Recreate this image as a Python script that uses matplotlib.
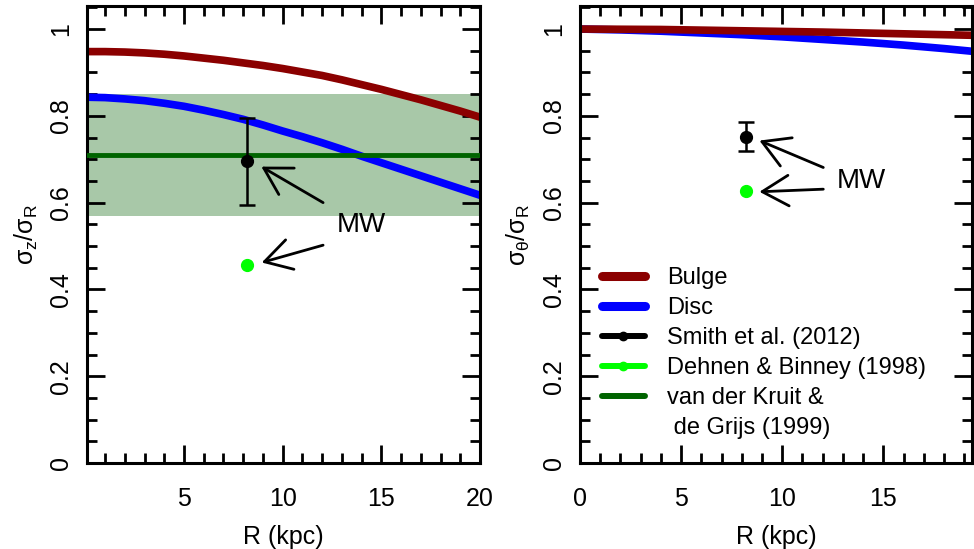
import matplotlib
matplotlib.use("Agg")
import matplotlib.pyplot as plt
from matplotlib.lines import Line2D
from matplotlib.ticker import MultipleLocator

plt.rcParams['font.family'] = ['Liberation Sans', 'DejaVu Sans']
plt.rcParams['mathtext.fontset'] = 'custom'
plt.rcParams['mathtext.rm'] = 'Liberation Sans'
plt.rcParams['mathtext.it'] = 'Liberation Sans'
plt.rcParams['mathtext.bf'] = 'Liberation Sans:bold'

# velocity dispersion ratios vs galactocentric radius
r_z = [0, 1, 2, 3, 4, 5, 6, 7, 8, 9, 10, 11, 12, 13, 14, 15, 16, 17, 18, 19, 20]
bulge_z = [0.948, 0.948, 0.947, 0.945, 0.942, 0.938, 0.933, 0.928, 0.922, 0.916, 0.909,
           0.901, 0.893, 0.883, 0.872, 0.861, 0.849, 0.837, 0.824, 0.811, 0.797]
disc_z = [0.843, 0.842, 0.839, 0.835, 0.829, 0.822, 0.813, 0.803, 0.792, 0.779, 0.765,
          0.752, 0.738, 0.723, 0.707, 0.692, 0.677, 0.662, 0.647, 0.632, 0.617]

r_theta = [0, 2, 4, 6, 8, 10, 12, 14, 16, 18, 20]
bulge_theta = [1.000, 0.9995, 0.999, 0.9975, 0.996, 0.9945, 0.993, 0.991, 0.989, 0.987, 0.985]
disc_theta = [1.000, 0.998, 0.995, 0.991, 0.987, 0.982, 0.976, 0.970, 0.963, 0.955, 0.946]

# Milky Way measurements at the solar radius
mw_r = 8.2
smith_z, smith_z_err = 0.695, 0.10
smith_theta, smith_theta_err = 0.752, 0.033
dehnen_z = 0.456
dehnen_theta = 0.626
vdk_z, vdk_z_err = 0.71, 0.14

RED = '#8B0000'
BLUE = '#0000FF'
DKGREEN = '#006400'
LIME = '#00FF00'

fig = plt.figure(figsize=(9.74, 5.49), dpi=100)
ax1 = fig.add_axes([0.0896, 0.1566, 0.4032, 0.8324])
ax2 = fig.add_axes([0.5955, 0.1566, 0.4028, 0.8324])


def style_axes(ax):
    for s in ax.spines.values():
        s.set_linewidth(2.2)
    ax.xaxis.set_major_locator(MultipleLocator(5))
    ax.xaxis.set_minor_locator(MultipleLocator(1))
    ax.yaxis.set_major_locator(MultipleLocator(0.2))
    ax.yaxis.set_minor_locator(MultipleLocator(0.05))
    ax.yaxis.set_major_formatter(lambda v, p: f"{v:g}")
    ax.tick_params(which='both', direction='in', top=True, right=True, width=2)
    ax.tick_params(which='major', length=13, labelsize=18)
    ax.tick_params(which='minor', length=7)
    ax.tick_params(axis='x', pad=17)
    ax.tick_params(axis='y', pad=10, labelrotation=90)
    for lab in ax.get_yticklabels():
        lab.set_va('center')
    ax.set_ylim(0, 1.053)
    ax.set_xlabel('R (kpc)', fontsize=18, labelpad=10)


def mw_arrow(ax, tip, tail):
    ax.annotate('', xy=tip, xytext=tail,
                arrowprops=dict(arrowstyle='->,head_length=0.95,head_width=0.55',
                                mutation_scale=20, lw=2, color='black',
                                shrinkA=0, shrinkB=0))


# left panel: sigma_z / sigma_R
ax1.axhspan(vdk_z - vdk_z_err, vdk_z + vdk_z_err, color='#A8C8A8', lw=0, zorder=1)
ax1.plot(r_z, bulge_z, color=RED, lw=5.5, zorder=2)
ax1.plot(r_z, disc_z, color=BLUE, lw=5.5, zorder=2)
ax1.axhline(vdk_z, color=DKGREEN, lw=3.5, zorder=3)
ax1.errorbar(mw_r, smith_z, yerr=smith_z_err, fmt='o', color='black', ms=8.5,
             elinewidth=1.8, capsize=6, capthick=1.8, zorder=4)
ax1.plot(mw_r, dehnen_z, 'o', color=LIME, ms=8.5, zorder=4)
mw_arrow(ax1, (mw_r + 0.72, smith_z - 0.012), (12.05, 0.600))
mw_arrow(ax1, (mw_r + 0.74, dehnen_z + 0.006), (12.05, 0.502))
ax1.text(14.0, 0.548, 'MW', fontsize=20, ha='center', va='center')
ax1.set_xlim(0.1, 20)
style_axes(ax1)
ax1.set_ylabel(r'$\sigma_z/\sigma_R$', fontsize=18, labelpad=7)

# right panel: sigma_theta / sigma_R
ax2.plot(r_theta, disc_theta, color=BLUE, lw=5.5, zorder=2)
ax2.plot(r_theta, bulge_theta, color=RED, lw=5.5, zorder=2)
ax2.errorbar(mw_r, smith_theta, yerr=smith_theta_err, fmt='o', color='black', ms=8.5,
             elinewidth=1.8, capsize=6, capthick=1.8, zorder=4)
ax2.plot(mw_r, dehnen_theta, 'o', color=LIME, ms=8.5, zorder=4)
mw_arrow(ax2, (mw_r + 0.67, smith_theta - 0.009), (12.03, 0.681))
mw_arrow(ax2, (mw_r + 0.67, dehnen_theta - 0.001), (12.03, 0.631))
ax2.text(13.93, 0.650, 'MW', fontsize=20, ha='center', va='center')
ax2.set_xlim(0, 19.4)
style_axes(ax2)
ax2.set_ylabel(r'$\sigma_\theta/\sigma_R$', fontsize=18, labelpad=7)

handles = [
    Line2D([], [], color=RED, lw=6.5, solid_capstyle='round'),
    Line2D([], [], color=BLUE, lw=6.5, solid_capstyle='round'),
    Line2D([], [], color='black', lw=4.3, marker='o', ms=6, solid_capstyle='round'),
    Line2D([], [], color=LIME, lw=4.3, marker='o', ms=6, solid_capstyle='round'),
    Line2D([], [], color=DKGREEN, lw=4.3, solid_capstyle='round'),
    Line2D([], [], color='none'),
]
labels = ['Bulge', 'Disc', 'Smith et al. (2012)', 'Dehnen & Binney (1998)',
          'van der Kruit &', ' de Grijs (1999)']
ax2.legend(handles, labels, loc='upper left', bbox_to_anchor=(0.055, 0.428),
           frameon=False, fontsize=17, handlelength=1.82, handletextpad=0.95,
           labelspacing=0.335, borderpad=0, borderaxespad=0)

fig.savefig('out.png', dpi=100)
